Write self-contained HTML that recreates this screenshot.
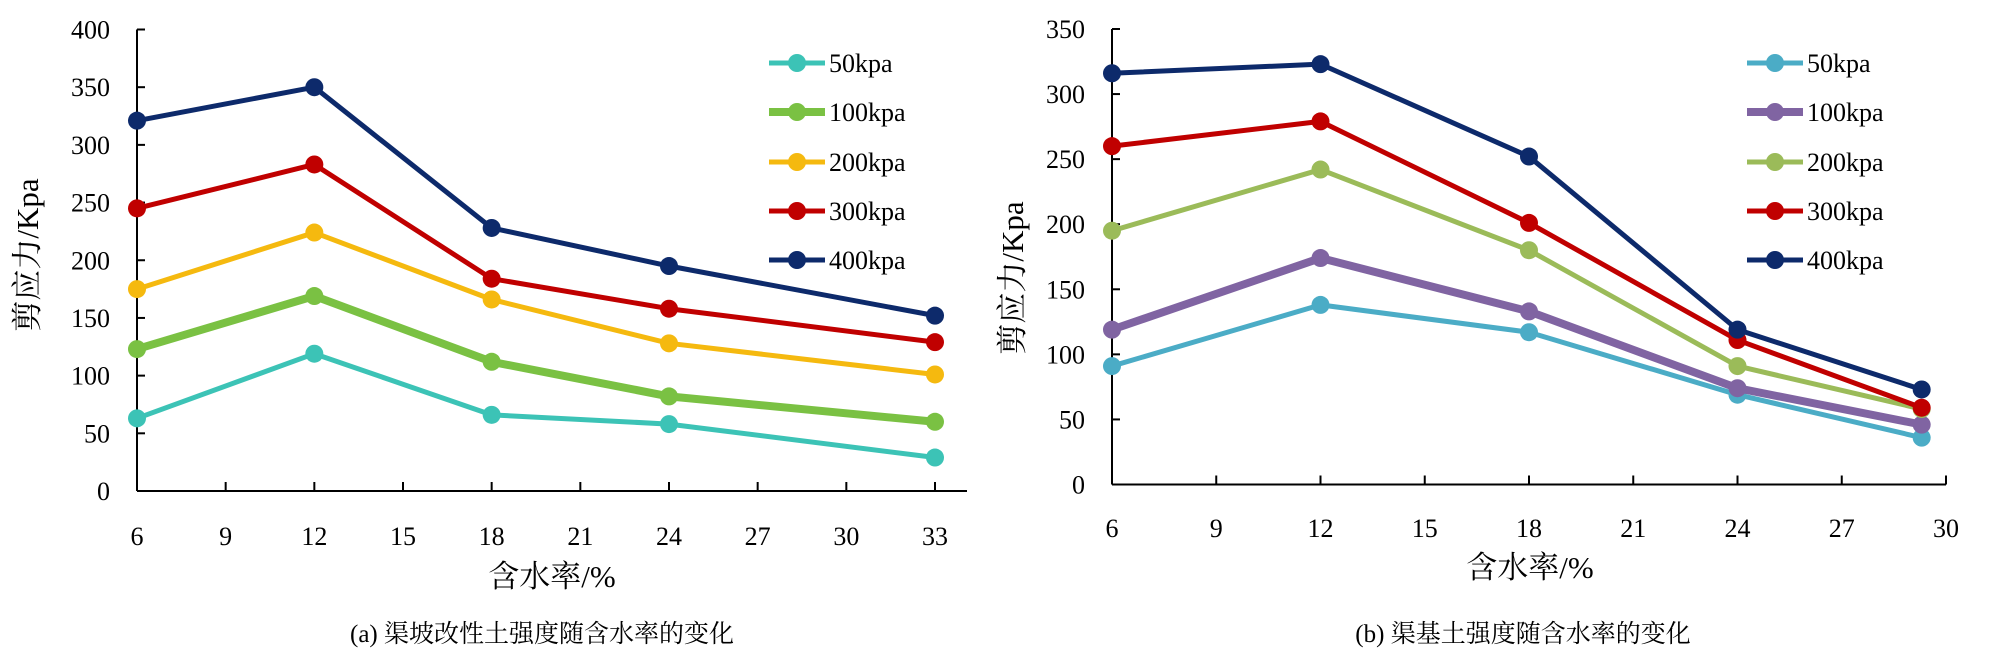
<!DOCTYPE html>
<html><head><meta charset="utf-8">
<style>
body{margin:0;background:#fff;}
svg{display:block;}
text{font-family:"Liberation Serif","Noto Serif CJK SC",serif;fill:#000;}
</style></head>
<body>
<svg id="chart" width="2000" height="664" viewBox="0 0 2000 664" xmlns="http://www.w3.org/2000/svg" font-family="'Liberation Serif','Noto Serif CJK SC',serif"></svg>
<script>
// ---- Chart A data ----
const aX = [6, 12, 18, 24, 33];
const aXTicks = [6, 9, 12, 15, 18, 21, 24, 27, 30, 33];
const aYTicks = [0, 50, 100, 150, 200, 250, 300, 350, 400];
const aNames = ["50kpa", "100kpa", "200kpa", "300kpa", "400kpa"];
const a50 = [63, 119, 66, 58, 29];
const a100 = [123, 169, 112, 82, 60];
const a200 = [175, 224, 166, 128, 101];
const a300 = [245, 283, 184, 158, 129];
const a400 = [321, 350, 228, 195, 152];
// ---- Chart B data ----
const bX = [6, 12, 18, 24, 29.3];
const bXTicks = [6, 9, 12, 15, 18, 21, 24, 27, 30];
const bYTicks = [0, 50, 100, 150, 200, 250, 300, 350];
const bNames = ["50kpa", "100kpa", "200kpa", "300kpa", "400kpa"];
const b50 = [91, 138, 117, 69, 36];
const b100 = [119, 174, 133, 74, 46];
const b200 = [195, 242, 180, 91, 58];
const b300 = [260, 279, 201, 111, 59];
const b400 = [316, 323, 252, 119, 73];

const NS = "http://www.w3.org/2000/svg";
const FONT = "'Liberation Serif','Noto Serif CJK SC',serif";
const svg = document.getElementById("chart");
function mk(tag, attrs, parent) {
  const e = document.createElementNS(NS, tag);
  for (const k in attrs) e.setAttribute(k, attrs[k]);
  if (tag === "text") e.setAttribute("font-family", FONT);
  (parent || svg).appendChild(e);
  return e;
}

function drawChart(cfg) {
  const g = mk("g", {});
  
  
  const xs = v => cfg.x0 + (v - cfg.xmin) / (cfg.xmax - cfg.xmin) * (cfg.x1 - cfg.x0);
  const ys = v => cfg.y0 - v / cfg.ymax * (cfg.y0 - cfg.y1);
  const ya = mk("line", {x1: cfg.x0, y1: ys(cfg.ymax), x2: cfg.x0, y2: cfg.y0, stroke: "#000", "stroke-width": 2}, g);
  
  
  const xa = mk("line", {x1: cfg.x0, y1: cfg.y0, x2: cfg.axEnd, y2: cfg.y0, stroke: "#000", "stroke-width": 2}, g);
  
  
  cfg.yTicks.forEach(t => {
    const y = ys(t);
    mk("line", {x1: cfg.x0, y1: y, x2: cfg.x0 + 8, y2: y, stroke: "#000", "stroke-width": 2}, g);
    const tx = mk("text", {x: cfg.x0 - 27, y: y + 9, "font-size": 26, "text-anchor": "end"}, g);
    tx.textContent = t;
    
    
  });
  cfg.xTicks.forEach(t => {
    const x = xs(t);
    mk("line", {x1: x, y1: cfg.y0, x2: x, y2: cfg.y0 - 9, stroke: "#000", "stroke-width": 2}, g);
    const tx = mk("text", {x: x, y: cfg.xLabY, "font-size": 26, "text-anchor": "middle"}, g);
    tx.textContent = t;
    
    
  });
  cfg.series.forEach((s, i) => {
    const sg = mk("g", {}, g);
    
    
    const pts = s.map((v, j) => xs(cfg.xv[j]) + "," + ys(v)).join(" ");
    mk("polyline", {points: pts, fill: "none", stroke: cfg.colors[i], "stroke-width": cfg.widths[i], "stroke-linejoin": "round"}, sg);
    s.forEach((v, j) => {
      const c = mk("circle", {cx: xs(cfg.xv[j]), cy: ys(v), r: 9, fill: cfg.colors[i]}, sg);
      
      
    });
    const ly = cfg.legY[i];
    const lg = mk("g", {}, g);
    
    
    mk("line", {x1: cfg.legX, y1: ly, x2: cfg.legX + 56, y2: ly, stroke: cfg.colors[i], "stroke-width": cfg.widths[i]}, lg);
    mk("circle", {cx: cfg.legX + 28, cy: ly, r: 9, fill: cfg.colors[i]}, lg);
    const lt = mk("text", {x: cfg.legX + 60, y: ly + 9, "font-size": 26}, lg);
    lt.textContent = cfg.names[i];
  });
  const xt = mk("text", {x: cfg.xTitleX, y: cfg.xTitleY, "font-size": 31, "text-anchor": "middle"}, g);
  xt.textContent = "含水率/%";
  
  
  const yt = mk("text", {x: 0, y: 0, "font-size": 31, "text-anchor": "middle", transform: "translate(" + cfg.yTitleX + "," + cfg.yTitleY + ") rotate(-90)"}, g);
  yt.textContent = "剪应力/Kpa";
  
  
  const cp = mk("text", {x: cfg.capX, y: 642, "font-size": 25, "text-anchor": "middle"}, g);
  cp.textContent = cfg.caption;
  
  
}

const legYs = [63, 112, 162, 211, 260];
drawChart({
  id: "chart-a", x0: 137, x1: 935, xmin: 6, xmax: 33, axEnd: 967,
  y0: 491, y1: 29.5, ymax: 400, xv: aX, xTicks: aXTicks, yTicks: aYTicks, xLabY: 545,
  series: [a50, a100, a200, a300, a400], names: aNames,
  colors: ["#3CC3B6", "#7AC143", "#F5B90F", "#C00000", "#0D2A6B"],
  widths: [5, 8, 5, 5, 5],
  legX: 769, legY: legYs, xTitleX: 552, xTitleY: 587, yTitleX: 38, yTitleY: 255,
  caption: "(a) 渠坡改性土强度随含水率的变化", capX: 542
});
drawChart({
  id: "chart-b", x0: 1112, x1: 1946, xmin: 6, xmax: 30, axEnd: 1946,
  y0: 484.5, y1: 29, ymax: 350, xv: bX, xTicks: bXTicks, yTicks: bYTicks, xLabY: 537,
  series: [b50, b100, b200, b300, b400], names: bNames,
  colors: ["#4BACC6", "#8064A2", "#9BBB59", "#C00000", "#0D2A6B"],
  widths: [5, 8, 5, 5, 5],
  legX: 1747, legY: legYs, xTitleX: 1530, xTitleY: 578, yTitleX: 1023, yTitleY: 278,
  caption: "(b) 渠基土强度随含水率的变化", capX: 1523
});
</script>
</body></html>
